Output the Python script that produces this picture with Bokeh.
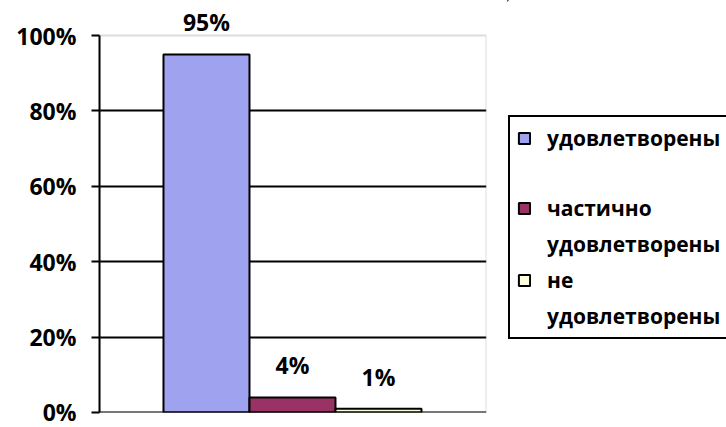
from bokeh.plotting import figure
from bokeh.layouts import row
from bokeh.core.properties import value
from bokeh.models import (ColumnDataSource, Range1d, FixedTicker, NumeralTickFormatter,
                          LabelSet, Legend, LegendItem, Span, BoxAnnotation)
from bokeh.embed import file_html
from bokeh.resources import INLINE

# data
series = [["удовлетворены"], ["частично", "удовлетворены"], ["не", "удовлетворены"]]
values = [0.95, 0.04, 0.01]
value_labels = ["95%", "4%", "1%"]
colors = ["#9FA2EE", "#993366", "#FFFFDD"]
y_ticks = [0, 0.2, 0.4, 0.6, 0.8, 1.0]
grid_ticks = [0.2, 0.4, 0.6, 0.8]

FONT = "Open Sans"

xs = list(range(len(values)))
src = ColumnDataSource(dict(x=xs, top=values, lab=value_labels, color=colors))

# ---------------- main chart ----------------
p = figure(width=507, height=427, output_backend="svg", toolbar_location=None,
           x_range=Range1d(-1.244, 3.256), y_range=Range1d(0, 1.093),
           min_border_left=99, min_border_top=0, min_border_bottom=15, min_border_right=21)
p.background_fill_color = "white"
p.border_fill_color = "white"
p.outline_line_color = None

# plot-area border (top / right grey)
p.add_layout(BoxAnnotation(bottom=0, top=1, fill_color=None, fill_alpha=0,
                           line_color="#8C8C8C", line_width=2, level="underlay"))

for i in xs:
    p.vbar(x=[xs[i]], top=[values[i]], bottom=0, width=1.0,
           fill_color=colors[i], line_color="black", line_width=2)

p.xaxis.visible = False
p.xgrid.visible = False
ya = p.yaxis[0]
ya.ticker = FixedTicker(ticks=y_ticks)
ya.bounds = (0, 1)
ya.formatter = NumeralTickFormatter(format="0%")
ya.axis_line_color = "black"
ya.axis_line_width = 2
ya.major_tick_line_color = "black"
ya.major_tick_line_width = 2
ya.major_tick_in = 0
ya.major_tick_out = 8
ya.minor_tick_line_color = None
ya.major_label_standoff = 15
ya.major_label_text_font = FONT
ya.major_label_text_font_style = "bold"
ya.major_label_text_font_size = "23px"
ya.major_label_text_color = "black"
p.ygrid.ticker = FixedTicker(ticks=grid_ticks)
p.ygrid.grid_line_color = "black"
p.ygrid.grid_line_width = 2
p.ygrid.level = "underlay"

p.add_layout(Span(location=0, dimension="width", line_color="black", line_width=2))

labels = LabelSet(x="x", y="top", text="lab", source=src, y_offset=32,
                  text_align="center", text_baseline="middle",
                  text_font=value(FONT), text_font_style="bold", text_font_size="23px",
                  text_color="black")
p.add_layout(labels)

# ---------------- legend panel ----------------
lg = figure(width=219, height=427, output_backend="svg", toolbar_location=None,
            x_range=Range1d(10, 11), y_range=Range1d(-11, -10),
            x_axis_location=None, y_axis_location=None,
            min_border_left=0, min_border_right=0, min_border_top=0, min_border_bottom=0)
lg.outline_line_color = None
lg.xgrid.visible = False
lg.ygrid.visible = False
lg.border_fill_color = "white"
lg.background_fill_color = "white"

# legend proxies (same data, kept outside this panel's visible range)
proxies = [lg.vbar(x=[xs[i]], top=[values[i]], bottom=0, width=1.0, fill_color=colors[i],
                   line_color="black", line_width=2) for i in xs]
blank = lg.vbar(x=[], top=[], width=1.0, fill_alpha=0, line_alpha=0)

items = []
for i in xs:
    lines = series[i]
    items.append(LegendItem(label=lines[0], renderers=[proxies[i]]))
    rest = lines[1:] if len(lines) > 1 else [" "]
    for ln in rest:
        items.append(LegendItem(label=ln, renderers=[blank]))

legend = Legend(items=items, location=(1, 73), orientation="vertical",
                border_line_color="black", border_line_width=2, border_line_alpha=1.0,
                label_text_font=FONT, label_text_font_style="bold",
                label_text_font_size="21px", label_text_color="black",
                glyph_width=14, glyph_height=14, label_standoff=16, label_height=26,
                padding=7, spacing=8, margin=0, background_fill_color="white",
                background_fill_alpha=1.0)
lg.add_layout(legend, "center")

layout = row(p, lg, spacing=0)
open("out.html", "w").write(file_html(layout, INLINE))
